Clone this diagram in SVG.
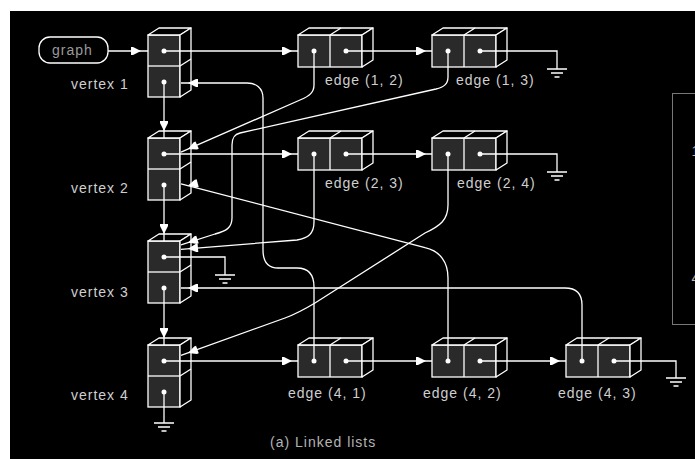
<svg xmlns="http://www.w3.org/2000/svg" width="695" height="459" viewBox="0 0 695 459">
<style>
.face{fill:#2a2a2a;stroke:#fff;stroke-width:1.3}
.sf{fill:#000;stroke:#fff;stroke-width:1.3;stroke-linejoin:round}
.ln{fill:none;stroke:#fff;stroke-width:1.3}
.dot{fill:#fff}
.lbl{font-family:"Liberation Sans",Arial,sans-serif;font-size:14px;letter-spacing:1px;fill:#cfcfcf}
.cap{font-family:"Liberation Sans",Arial,sans-serif;font-size:14px;letter-spacing:1px;fill:#b4b4b4}
.ah{fill:#fff;stroke:none}
.con{fill:none;stroke:#fff;stroke-width:1.3}
</style>
<defs>
<g id="vbox">
<rect class="face" x="0" y="0" width="32" height="62"/>
<polygon class="sf" points="0,0 11,-7 43,-7 32,0"/>
<polygon class="sf" points="32,0 43,-7 43,55 32,62"/>
<line class="ln" x1="0" y1="31" x2="32" y2="31"/>
<line class="ln" x1="32" y1="31" x2="43" y2="24"/>
<circle class="dot" cx="16" cy="16" r="2.5"/>
<circle class="dot" cx="16" cy="47" r="2.5"/>
</g>
<g id="ebox">
<rect class="face" x="0" y="0" width="64" height="32"/>
<polygon class="sf" points="0,0 11,-7 75,-7 64,0"/>
<polygon class="sf" points="64,0 75,-7 75,25 64,32"/>
<line class="ln" x1="32" y1="0" x2="32" y2="32"/>
<line class="ln" x1="32" y1="0" x2="43" y2="-7"/>
<circle class="dot" cx="16" cy="16" r="2.5"/>
<circle class="dot" cx="48" cy="16" r="2.5"/>
</g>
<path id="ah" class="ah" d="M0,0 L-8,-4 L-10,-4 L-10,4 L-8,4 Z"/>
<path id="gnd" class="ln" d="M-10,0 H10 M-6,4 H6 M-2.5,8 H2.5"/>
</defs>
<rect x="0" y="0" width="695" height="459" fill="#fff"/>
<rect x="10" y="11" width="685" height="448" fill="#000"/>
<g id="panel-b">
<rect x="672.5" y="93.5" width="40" height="231" fill="none" stroke="#777" stroke-width="1"/>
<text class="cap" x="691.5" y="156">1</text>
<text class="cap" x="691.5" y="283">4</text>
</g>
<g id="graph">
<rect x="39" y="37" width="69" height="26" rx="11" fill="#000" stroke="#fff" stroke-width="1.3"/>
<text class="lbl" x="52" y="55" style="fill:#9a9a9a">graph</text>
</g>
<g id="vertex1"><use href="#vbox" x="148" y="35"/><text class="lbl" x="71" y="89">vertex 1</text></g>
<g id="vertex2"><use href="#vbox" x="148" y="138"/><text class="lbl" x="71" y="193">vertex 2</text></g>
<g id="vertex3"><use href="#vbox" x="148" y="241"/><text class="lbl" x="71" y="297">vertex 3</text></g>
<g id="vertex4"><use href="#vbox" x="148" y="345"/><text class="lbl" x="71" y="400">vertex 4</text></g>
<g id="edge12"><use href="#ebox" x="298" y="35"/><text class="lbl" x="325" y="85">edge (1, 2)</text></g>
<g id="edge13"><use href="#ebox" x="432" y="35"/><text class="lbl" x="456" y="85">edge (1, 3)</text></g>
<g id="edge23"><use href="#ebox" x="298" y="138"/><text class="lbl" x="325" y="188">edge (2, 3)</text></g>
<g id="edge24"><use href="#ebox" x="432" y="138"/><text class="lbl" x="457" y="188">edge (2, 4)</text></g>
<g id="edge41"><use href="#ebox" x="298" y="345"/><text class="lbl" x="288" y="398">edge (4, 1)</text></g>
<g id="edge42"><use href="#ebox" x="432" y="345"/><text class="lbl" x="423" y="398">edge (4, 2)</text></g>
<g id="edge43"><use href="#ebox" x="566" y="345"/><text class="lbl" x="558" y="398">edge (4, 3)</text></g>
<g id="connectors">
<path class="con" d="M108,51 H148"/><use href="#ah" transform="translate(141,51)"/>
<path class="con" d="M164,51 H298"/><use href="#ah" transform="translate(292,51)"/>
<path class="con" d="M346,51 H432"/><use href="#ah" transform="translate(426,51)"/>
<path class="con" d="M480,51 H557 V69"/><use href="#gnd" transform="translate(557,69)"/>
<path class="con" d="M164,82 V138"/><use href="#ah" transform="translate(164,131) rotate(90)"/>
<path class="con" d="M164,154 H298"/><use href="#ah" transform="translate(292,154)"/>
<path class="con" d="M346,154 H432"/><use href="#ah" transform="translate(426,154)"/>
<path class="con" d="M480,154 H557 V172"/><use href="#gnd" transform="translate(557,172)"/>
<path class="con" d="M164,185 V241"/><use href="#ah" transform="translate(164,234) rotate(90)"/>
<path class="con" d="M164,257 H225 V275"/><use href="#gnd" transform="translate(225,275)"/>
<path class="con" d="M164,288 V345"/><use href="#ah" transform="translate(164,338) rotate(90)"/>
<path class="con" d="M164,361 H298"/><use href="#ah" transform="translate(292,361)"/>
<path class="con" d="M346,361 H432"/><use href="#ah" transform="translate(426,361)"/>
<path class="con" d="M480,361 H566"/><use href="#ah" transform="translate(560,361)"/>
<path class="con" d="M614,361 H676 V378"/><use href="#gnd" transform="translate(676,378)"/>
<path class="con" d="M164,392 V423"/><use href="#gnd" transform="translate(164,423)"/>
<path class="con" d="M314,51 V85 C314,92 310,96 300,100 L181,152.2"/><use href="#ah" transform="translate(188,149.1) rotate(156.3)"/>
<path class="con" d="M448,51 V77 C448,84 444,87 436,89 L240,133 C234,134.5 232,138 232,145 V218 C232,228 226,231 215,234 L181,244.9"/><use href="#ah" transform="translate(188,242.6) rotate(162.2)"/>
<path class="con" d="M314,154 V222 C314,234 308,238 297,240 L181,249.3"/><use href="#ah" transform="translate(188,248.7) rotate(175.4)"/>
<path class="con" d="M448,154 V205 C448,220 440,226 425,233 L315,303 C305,309 296,314 285,318 L181,355.4"/><use href="#ah" transform="translate(188,352.9) rotate(160.2)"/>
<path class="con" d="M314,361 V287 C314,274 308,268 297,268 H278 C268,268 263,262 263,250 V98 C263,88 256,83 247,83 H181"/><use href="#ah" transform="translate(188,83) rotate(180)"/>
<path class="con" d="M448,361 V278 C448,262 440,251 425,247.7 L181,183.8"/><use href="#ah" transform="translate(188,185.6) rotate(165.3)"/>
<path class="con" d="M582,361 V305 Q582,288 565,288 H181"/><use href="#ah" transform="translate(188,288) rotate(180)"/>
</g>
<text class="cap" x="270" y="447">(a) Linked lists</text>
</svg>
